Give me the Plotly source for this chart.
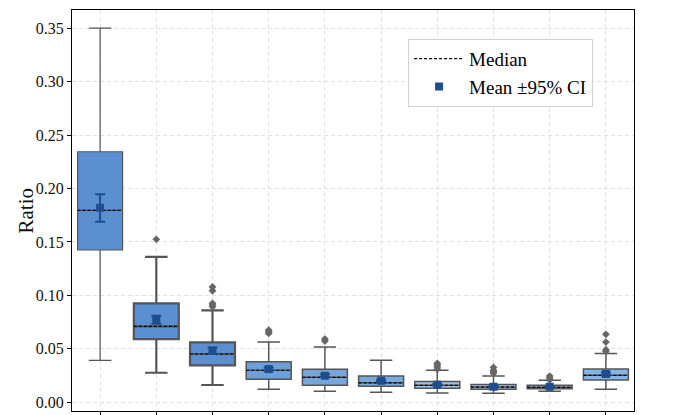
import plotly.graph_objects as go

# ---- data ----
categories = list(range(10))
q1 = [0.1425, 0.0592, 0.0346, 0.0215, 0.0159, 0.0150, 0.0131, 0.0122, 0.0127, 0.0209]
median = [0.1796, 0.0711, 0.0452, 0.0300, 0.0234, 0.0183, 0.0159, 0.0143, 0.0140, 0.0253]
q3 = [0.2344, 0.0926, 0.0561, 0.0380, 0.0309, 0.0246, 0.0196, 0.0168, 0.0159, 0.0311]
lower = [0.0393, 0.0277, 0.0162, 0.0122, 0.0103, 0.0094, 0.0087, 0.0084, 0.0103, 0.0122]
upper = [0.3500, 0.1360, 0.0860, 0.0564, 0.0517, 0.0393, 0.0300, 0.0246, 0.0206, 0.0458]
mean = [0.1820, 0.0773, 0.0483, 0.0311, 0.0249, 0.0202, 0.0165, 0.0146, 0.0146, 0.0265]
ci_low = [0.1690, 0.0735, 0.0455, 0.0296, 0.0238, 0.0192, 0.0158, 0.0140, 0.0141, 0.0252]
ci_high = [0.1946, 0.0810, 0.0512, 0.0326, 0.0262, 0.0212, 0.0172, 0.0152, 0.0151, 0.0278]
outliers = [
    [],
    [0.1525],
    [0.0894, 0.0910, 0.0926, 0.1044, 0.1080],
    [0.0645, 0.0660, 0.0676],
    [0.0573, 0.0592],
    [],
    [0.0310, 0.0330, 0.0350, 0.0365],
    [0.0271, 0.0285, 0.0299, 0.0327],
    [0.0210, 0.0227, 0.0246],
    [0.0475, 0.0492, 0.0564, 0.0636],
]
fill_colors = ["#5b8fd2", "#5b8fd2", "#5b8fd2", "#6d9fd9", "#76a6dc", "#7aaadd",
               "#9dc3ec", "#9dc3ec", "#9dc3ec", "#86b4e6"]
line_widths = [1.2, 2.2, 2.2, 1.5, 1.5, 1.5, 1.5, 1.5, 1.5, 1.5]
tick_vals = [0.0, 0.05, 0.10, 0.15, 0.20, 0.25, 0.30, 0.35]
tick_text = ["0.00", "0.05", "0.10", "0.15", "0.20", "0.25", "0.30", "0.35"]
y_title = "Ratio"

BOX_W = 0.8
SERIF = "Liberation Serif"

fig = go.Figure()

for i, c in enumerate(categories):
    fig.add_trace(go.Box(
        x=[c], q1=[q1[i]], median=[median[i]], q3=[q3[i]],
        lowerfence=[lower[i]], upperfence=[upper[i]],
        width=BOX_W, whiskerwidth=0.5,
        fillcolor=fill_colors[i],
        line=dict(color="#555555", width=line_widths[i]),
        boxpoints=False, showlegend=False, hoverinfo="skip",
    ))
    if outliers[i]:
        fig.add_trace(go.Scatter(
            x=[c] * len(outliers[i]), y=outliers[i], mode="markers",
            marker=dict(symbol="diamond", size=6, color="#666666"),
            showlegend=False, hoverinfo="skip",
        ))
    fig.add_trace(go.Scatter(
        x=[c - BOX_W / 2, c + BOX_W / 2], y=[median[i], median[i]],
        mode="lines", line=dict(color="black", width=1.2, dash="3px,2px"),
        showlegend=(i == 0), name="Median", legendrank=1, hoverinfo="skip",
    ))

fig.add_trace(go.Scatter(
    x=categories, y=mean, mode="markers",
    marker=dict(symbol="square", size=8, color="#1f4e8f"),
    error_y=dict(type="data", symmetric=False,
                 array=[h - m for h, m in zip(ci_high, mean)],
                 arrayminus=[m - l for m, l in zip(mean, ci_low)],
                 color="#1f4e8f", thickness=2, width=5),
    name="Mean ±95% CI", legendrank=2, hoverinfo="skip",
))

fig.update_layout(
    width=700, height=415,
    margin=dict(l=72, r=66, t=10, b=4, autoexpand=False),
    plot_bgcolor="white", paper_bgcolor="white",
    font=dict(family=SERIF, size=16, color="#111"),
    xaxis=dict(
        range=[-0.5, 9.5], tickvals=categories, showticklabels=False,
        automargin=False,
        showgrid=True, gridcolor="#e0e0e0", griddash="4px,3px", gridwidth=1,
        showline=True, linecolor="black", linewidth=1.2, mirror=True,
        ticks="outside", ticklen=4, tickcolor="black", zeroline=False,
    ),
    yaxis=dict(
        range=[-0.0081, 0.367], tickvals=tick_vals, ticktext=tick_text,
        automargin=False,
        showgrid=True, gridcolor="#e0e0e0", griddash="4px,3px", gridwidth=1,
        showline=True, linecolor="black", linewidth=1.2, mirror=True,
        ticks="outside", ticklen=4, tickcolor="black", zeroline=False,
        tickfont=dict(family=SERIF, size=16),
    ),
    annotations=[dict(
        text=y_title, xref="paper", yref="paper", x=-0.0836, y=0.5,
        xanchor="center", yanchor="middle", textangle=-90, showarrow=False,
        font=dict(family=SERIF, size=21, color="#111"),
    )],
    legend=dict(
        x=0.598, y=0.928, xanchor="left", yanchor="top",
        bgcolor="white", bordercolor="#d0d0d0", borderwidth=1,
        font=dict(family=SERIF, size=19, color="black"),
        itemwidth=50,
    ),
)

fig.write_html("out.html")
